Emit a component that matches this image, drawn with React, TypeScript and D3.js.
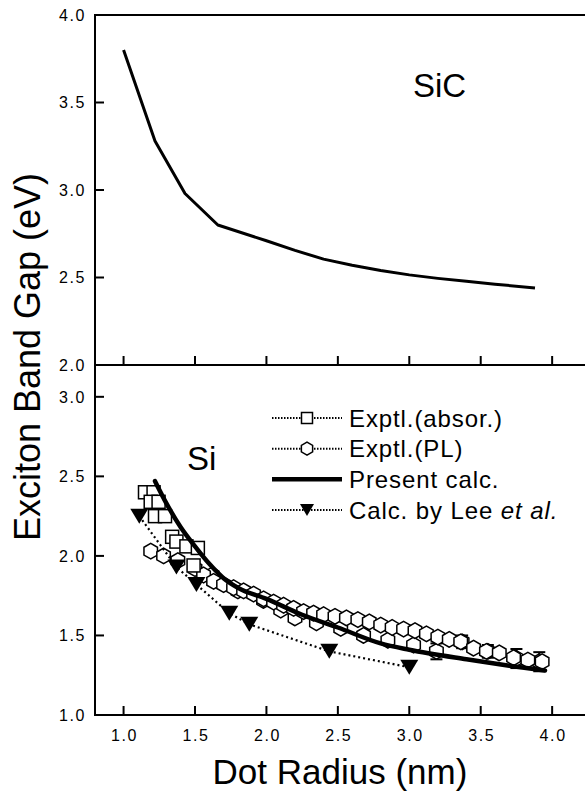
import * as d3 from 'd3'
import React from 'react'

// SiC (top panel)
const sicR = [1.0, 1.22, 1.43, 1.66, 2.0, 2.2, 2.4, 2.6, 2.8, 3.0, 3.2, 3.4, 3.6, 3.88]
const sicE = [3.80, 3.28, 2.98, 2.80, 2.71, 2.655, 2.605, 2.57, 2.54, 2.515, 2.495, 2.478, 2.462, 2.44]

// Si (bottom panel) - present calc
const calcR = [1.22, 1.3, 1.4, 1.5, 1.6, 1.7, 1.8, 2.0, 2.25, 2.5, 2.8, 3.0, 3.4, 3.7, 3.95]
const calcE = [2.47, 2.33, 2.18, 2.06, 1.95, 1.86, 1.80, 1.73, 1.63, 1.55, 1.45, 1.41, 1.35, 1.31, 1.28]

// Calc. by Lee et al.
const leeR = [1.11, 1.37, 1.51, 1.74, 1.88, 2.44, 3.0]
const leeE = [2.25, 1.93, 1.82, 1.64, 1.57, 1.40, 1.30]

// Exptl. (absorption)
const absR = [1.15, 1.21, 1.19, 1.245, 1.22, 1.29, 1.34, 1.37, 1.44, 1.52, 1.49]
const absE = [2.40, 2.40, 2.34, 2.34, 2.25, 2.25, 2.12, 2.09, 2.06, 2.05, 1.94]

// Exptl. (PL), upper band
const plR = [1.19, 1.28, 1.38, 1.50, 1.56, 1.63, 1.70, 1.77, 1.84, 1.91, 1.98, 2.05, 2.12, 2.19, 2.26, 2.33, 2.40,
  2.48, 2.56, 2.64, 2.72, 2.80, 2.88, 2.96, 3.04, 3.12, 3.20, 3.28, 3.36, 3.45, 3.54, 3.63, 3.73, 3.83, 3.93]
const plE = [2.03, 2.00, 1.97, 1.92, 1.88, 1.84, 1.82, 1.80, 1.78, 1.76, 1.73, 1.71, 1.69, 1.67, 1.65, 1.64, 1.63,
  1.62, 1.61, 1.60, 1.585, 1.565, 1.55, 1.54, 1.53, 1.51, 1.49, 1.475, 1.46, 1.42, 1.40, 1.39, 1.36, 1.345, 1.335]

// Exptl. (PL), lower band with error bars
const pl2R = [1.62, 1.80, 1.98, 2.10, 2.20, 2.35, 2.52, 2.68, 2.85, 3.03, 3.19, 3.37, 3.55, 3.75, 3.91]
const pl2E = [1.88, 1.78, 1.72, 1.66, 1.61, 1.58, 1.545, 1.50, 1.47, 1.44, 1.40, 1.46, 1.40, 1.355, 1.335]
const pl2Err = [0, 0, 0, 0, 0, 0, 0, 0, 0, 0, 0.05, 0.04, 0.04, 0.06, 0.06]

const xTicks = [1.0, 1.5, 2.0, 2.5, 3.0, 3.5, 4.0]
const topTicks = [2.0, 2.5, 3.0, 3.5, 4.0]
const botTicks = [1.0, 1.5, 2.0, 2.5, 3.0]

const FONT = 'Liberation Sans, Arial, Helvetica, sans-serif'

const hexPath = (r: number) => {
  const pts = d3.range(6).map(k => {
    const a = Math.PI / 2 + k * Math.PI / 3
    return [r * Math.cos(a), r * Math.sin(a)]
  })
  return 'M' + pts.map(p => p[0].toFixed(2) + ',' + p[1].toFixed(2)).join('L') + 'Z'
}

const triPath = (w: number, h: number) => `M${-w / 2},${-h / 2}L${w / 2},${-h / 2}L0,${h / 2}Z`

export default function App() {
  const W = 585, H = 795
  const left = 95, right = 585
  const x = d3.scaleLinear().domain([0.8, 4.23]).range([left, right])
  const yTop = d3.scaleLinear().domain([2, 4]).range([365, 15])
  const yBot = d3.scaleLinear().domain([1, 3.2]).range([715, 365])

  const sicLine = d3.line<number>().x((_, i) => x(sicR[i])).y(d => yTop(d)).curve(d3.curveLinear)
  const calcLine = d3.line<number>().x((_, i) => x(calcR[i])).y(d => yBot(d)).curve(d3.curveMonotoneX)
  const leeLine = d3.line<number>().x((_, i) => x(leeR[i])).y(d => yBot(d))

  const hex = hexPath(7.8)
  const tri = triPath(18, 15)

  const legend = [
    { label: 'Exptl.(absor.)', kind: 'square' },
    { label: 'Exptl.(PL)', kind: 'hex' },
    { label: 'Present calc.', kind: 'line' },
    { label: 'Calc. by Lee ', kind: 'tri' },
  ]
  const legY = d3.scaleLinear().domain([0, 3]).range([418, 510])

  return (
    <svg width={W} height={H} style={{ position: 'absolute', left: 0, top: 0, background: '#fff' }} fontFamily={FONT}>
      <rect width={W} height={H} fill='#fff' />

      {/* frames */}
      <g stroke='#000' strokeWidth={2} fill='none'>
        <line x1={left} x2={right} y1={yTop(4)} y2={yTop(4)} />
        <line x1={left} x2={right} y1={yTop(2)} y2={yTop(2)} />
        <line x1={left} x2={right} y1={yBot(1)} y2={yBot(1)} />
        <line x1={left} x2={left} y1={yTop(4) - 1} y2={yBot(1) + 1} />
        {topTicks.map(t => <line key={'tt' + t} x1={left} x2={left + 9} y1={yTop(t)} y2={yTop(t)} />)}
        {botTicks.map(t => <line key={'bt' + t} x1={left} x2={left + 9} y1={yBot(t)} y2={yBot(t)} />)}
        {xTicks.map(t => <line key={'xt' + t} x1={x(t)} x2={x(t)} y1={yTop(2)} y2={yTop(2) - 9} />)}
        {xTicks.map(t => <line key={'xb' + t} x1={x(t)} x2={x(t)} y1={yBot(1)} y2={yBot(1) - 9} />)}
      </g>

      {/* tick labels */}
      <g fontSize={16} letterSpacing={1.6} fill='#000'>
        {topTicks.map(t => (
          <text key={'tl' + t} x={86} y={yTop(t)} dy='0.36em' textAnchor='end'>{t.toFixed(1)}</text>
        ))}
        {botTicks.map(t => (
          <text key={'bl' + t} x={86} y={yBot(t)} dy='0.36em' textAnchor='end'>{t.toFixed(1)}</text>
        ))}
        {xTicks.map(t => (
          <text key={'xl' + t} x={x(t) + 1} y={741} textAnchor='middle'>{t.toFixed(1)}</text>
        ))}
      </g>

      {/* axis titles */}
      <text x={340} y={784} fontSize={35} textAnchor='middle'>Dot Radius (nm)</text>
      <text transform='translate(39.5,357) rotate(-90)' fontSize={36} textAnchor='middle'>Exciton Band Gap (eV)</text>

      {/* panel labels */}
      <text x={413} y={97} fontSize={33}>SiC</text>
      <text x={187} y={470} fontSize={33}>Si</text>

      {/* SiC curve */}
      <path d={sicLine(sicE) as string} fill='none' stroke='#000' strokeWidth={3} strokeLinejoin='round' />

      {/* PL hexagons */}
      <g fill='#fff' stroke='#000' strokeWidth={1.5}>
        {pl2R.map((r, i) => pl2Err[i] > 0 ? (
          <g key={'eb' + i} strokeWidth={2}>
            <line x1={x(r)} x2={x(r)} y1={yBot(pl2E[i] - pl2Err[i])} y2={yBot(pl2E[i] + pl2Err[i])} />
            <line x1={x(r) - 6} x2={x(r) + 6} y1={yBot(pl2E[i] - pl2Err[i])} y2={yBot(pl2E[i] - pl2Err[i])} />
            <line x1={x(r) - 6} x2={x(r) + 6} y1={yBot(pl2E[i] + pl2Err[i])} y2={yBot(pl2E[i] + pl2Err[i])} />
          </g>
        ) : null)}
        {pl2R.map((r, i) => <path key={'p2' + i} d={hex} transform={`translate(${x(r)},${yBot(pl2E[i])})`} />)}
        {plR.map((r, i) => <path key={'p1' + i} d={hex} transform={`translate(${x(r)},${yBot(plE[i])})`} />)}
      </g>

      {/* absorption squares */}
      <g fill='#fff' stroke='#000' strokeWidth={1.5}>
        {absR.map((r, i) => <rect key={'sq' + i} x={x(r) - 6.5} y={yBot(absE[i]) - 6.5} width={13} height={13} />)}
      </g>

      {/* Lee et al. */}
      <path d={leeLine(leeE) as string} fill='none' stroke='#000' strokeWidth={2.2} strokeDasharray='2 3' />
      <g fill='#000'>
        {leeR.map((r, i) => <path key={'tr' + i} d={tri} transform={`translate(${x(r)},${yBot(leeE[i])})`} />)}
      </g>

      {/* present calc */}
      <path d={calcLine(calcE) as string} fill='none' stroke='#000' strokeWidth={4.5} strokeLinecap='round' />

      {/* legend */}
      <g>
        {legend.map((l, i) => {
          const cy = legY(i)
          const x0 = 272, x1 = 342, cx = (x0 + x1) / 2
          return (
            <g key={'lg' + i}>
              {l.kind === 'line'
                ? <line x1={x0} x2={x1} y1={cy} y2={cy} stroke='#000' strokeWidth={4.5} />
                : <line x1={x0} x2={x1} y1={cy} y2={cy} stroke='#000' strokeWidth={2} strokeDasharray='1.5 1.5' />}
              {l.kind === 'square' && <rect x={cx - 5.5} y={cy - 5.5} width={11} height={11} fill='#fff' stroke='#000' strokeWidth={1.5} />}
              {l.kind === 'hex' && <path d={hexPath(6.5)} transform={`translate(${cx},${cy})`} fill='#fff' stroke='#000' strokeWidth={1.5} />}
              {l.kind === 'tri' && <path d={triPath(14, 12)} transform={`translate(${cx},${cy})`} fill='#000' />}
              <text x={349} y={cy} dy='0.36em' fontSize={24} letterSpacing={0.9}>
                {l.label}
                {l.kind === 'tri' && <tspan fontStyle='italic'>et al.</tspan>}
              </text>
            </g>
          )
        })}
      </g>
    </svg>
  )
}
